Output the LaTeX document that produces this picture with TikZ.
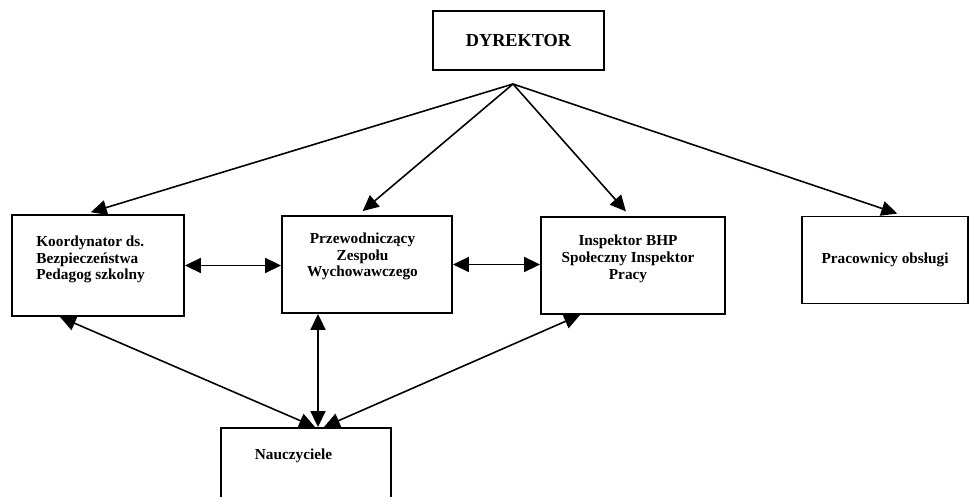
\documentclass[tikz,border=0pt]{standalone}
\usepackage{fontspec}
\setmainfont{Liberation Serif}
\usetikzlibrary{arrows.meta}

\begin{document}
\begin{tikzpicture}[
  box/.style={draw,line width=1.1pt,inner sep=0pt},
  txt/.style={font=\bfseries\fontsize{8.7}{9.6}\selectfont,inner sep=0pt},
  arr/.style={line width=0.9pt,shorten >=3.5pt,-{Triangle[length=9pt,width=8.5pt]}},
  darr/.style={line width=0.9pt,{Triangle[length=9pt,width=8.5pt]}-{Triangle[length=9pt,width=8.5pt]}}]

  \useasboundingbox (0,0) rectangle (19.4,9.94);
  \clip (0,0) rectangle (19.4,9.94);

  % Dyrektor na gorze
  \node[box,minimum width=3.42cm,minimum height=1.18cm,font=\bfseries\fontsize{10.4}{12}\selectfont] (dyr) at (10.37,9.13) {DYREKTOR};
  \coordinate (apex) at (10.26,8.26);

  % Drugi rzad ramek
  \node[box,minimum width=3.44cm,minimum height=2.02cm] (koord) at (1.96,4.63) {};
  \node[txt,align=left,anchor=west] (koordtxt) at (0.72,4.75) {Koordynator ds.\\Bezpieczeństwa\\Pedagog szkolny};

  \node[box,minimum width=3.4cm,minimum height=1.94cm] (przew) at (7.34,4.65) {};
  \node[txt,align=center] (przewtxt) at (7.25,4.81) {Przewodniczący\\Zespołu\\Wychowawczego};

  \node[box,minimum width=3.68cm,minimum height=1.94cm] (insp) at (12.66,4.63) {};
  \node[txt,align=center] (insptxt) at (12.56,4.77) {Inspektor BHP\\Społeczny Inspektor\\Pracy};

  \node[box,txt,minimum width=3.32cm,minimum height=1.74cm] (prac) at (17.7,4.74) {Pracownicy obsługi};

  % Nauczyciele na dole
  \node[box,minimum width=3.4cm,minimum height=1.94cm] (naucz) at (6.12,0.41) {};
  \node[txt] (nauczt) at (5.87,0.82) {Nauczyciele};

  % Strzalki od dyrektora
  \draw[arr] (apex) -- ([xshift=-0.26cm]koord.north);
  \draw[arr] (apex) -- ([xshift=-0.18cm]przew.north);
  \draw[arr] (apex) -- ([xshift=-0.06cm]insp.north);
  \draw[arr] (apex) -- ([xshift=0.36cm]prac.north);

  % Strzalki w obie strony
  \draw[darr] (koord.east) -- (koord.east -| przew.west);
  \draw[darr] (przew.east) -- (przew.east -| insp.west);

  \draw[darr] ([xshift=-0.76cm]koord.south) -- ([xshift=0.18cm]naucz.north);
  \draw[darr] ([xshift=-0.98cm]przew.south) -- ([xshift=0.24cm]naucz.north);
  \draw[darr] ([xshift=-1.06cm]insp.south) -- ([xshift=0.36cm]naucz.north);

\end{tikzpicture}
\end{document}
